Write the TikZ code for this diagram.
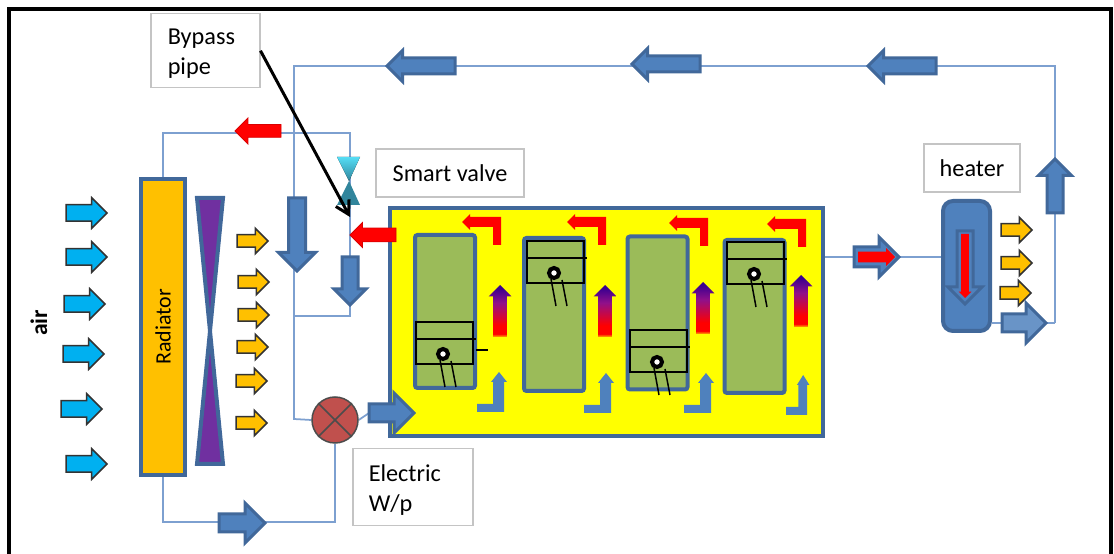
\documentclass[tikz,border=0pt]{standalone}
\usepackage{fontspec}
\setmainfont{Carlito}
\usetikzlibrary{arrows.meta,positioning,calc,backgrounds,shapes.arrows}
\definecolor{pipeline}{HTML}{7DA0D0}
\definecolor{edgeblue}{HTML}{41689A}
\definecolor{flowblue}{HTML}{4F81BD}
\definecolor{amber}{HTML}{FFC000}
\definecolor{skyblue}{HTML}{00B0F0}
\definecolor{cylgreen}{HTML}{9BBB59}
\definecolor{fanpurple}{HTML}{7030A0}
\definecolor{pumpred}{HTML}{C0504D}
\definecolor{valveteal}{HTML}{31859C}
\definecolor{valvecyan}{HTML}{55DDF5}
\definecolor{labelgray}{HTML}{C4C4C4}
\definecolor{blockyellow}{HTML}{FFFF00}
\definecolor{hotred}{HTML}{FF0000}
\definecolor{hotorange}{HTML}{FF8000}
\definecolor{hotpurple}{HTML}{90108A}
\definecolor{hotindigo}{HTML}{3A0090}
\pgfdeclareverticalshading{heatflow}{100bp}{color(0bp)=(hotorange); color(26bp)=(hotorange); color(28bp)=(hotred);
  color(36bp)=(hotred); color(58bp)=(hotpurple); color(72bp)=(hotindigo); color(100bp)=(hotindigo)}

\begin{document}
\begin{tikzpicture}[
  x=.2mm,y=-.2mm,
  >=Stealth,
  font=\fontsize{12.5}{17}\selectfont,
  flow/.style n args={3}{single arrow,anchor=tip,outer sep=0pt,inner sep=#2*.1mm,
    minimum height=#1*.2mm,single arrow head extend=(#3-#2)*.1mm,single arrow head indent=0pt},
  pipe/.style={draw=pipeline,line width=.35mm},
  bluearrow/.style={draw=edgeblue,fill=flowblue,line width=.6mm},
  redarrow/.style={draw=hotred!85!black,fill=hotred,line width=.15mm},
  airarrow/.style={draw=black!80,fill=skyblue,line width=.3mm,flow={41}{15}{29}},
  warmarrow/.style={draw=black!80,fill=amber,line width=.3mm,flow={31}{11}{24}},
  heatarrow/.style={draw=none,shade,shading=heatflow,shape border rotate=90,flow={52}{13}{22}},
  labelbox/.style={draw=labelgray,fill=white,line width=.3mm,align=left,inner sep=0pt,
    font=\fontsize{13.8}{17}\selectfont},
  cylbox/.style={draw=edgeblue,fill=cylgreen,line width=.8mm,rounded corners=.5mm,
    minimum width=12mm,minimum height=30.6mm},
  redbent/.pic={
    \fill[hotred] (0,0) -- (8,-8) -- (8,-5) -- (39,-5) -- (39,23) -- (31,23)
      -- (31,5) -- (8,5) -- (8,8) -- cycle;},
  bluebent/.pic={
    \fill[flowblue] (0,0) -- (0,-8) -- (16,-8) -- (16,-30) -- (14,-30) -- (22,-40)
      -- (30,-30) -- (27,-30) -- (27,0) -- cycle;},
  piston/.pic={
    \draw[line width=.3mm] (-27,-32) rectangle (30,10);
    \draw[line width=.3mm] (-27,-15) -- (33,-15);
    \draw[line width=.3mm] (-3,6) -- (2,33);
    \draw[line width=.3mm] (8,7) -- (13,33);
    \draw[line width=.8mm,fill=white] (0,0) circle (5);}
]
\useasboundingbox (0,0) rectangle (1114,554);

% outer frame, open at the bottom
\draw[line width=.7mm] (9,554) -- (9,9) -- (1111,9) -- (1111,554);

% radiator and fan
\node[draw=edgeblue,fill=amber,line width=.8mm,minimum width=8.8mm,minimum height=59.2mm] (radiator) at (163,327) {};
\node[rotate=90] (radlabel) at (radiator.center) {Radiator};
\draw[draw=edgeblue,fill=fanpurple,line width=.8mm,line join=miter]
  (197,198) -- (223,198) -- (197,464) -- (223,464) -- cycle;
\node[rotate=90,font=\fontsize{13.5}{15}\selectfont\bfseries] (airlabel) at (39,323) {air};

% air in
\node[airarrow] (air1) at (107,213) {};
\node[airarrow] (air2) at (107,257) {};
\node[airarrow] (air3) at (105,304) {};
\node[airarrow] (air4) at (104,354) {};
\node[airarrow] (air5) at (102,409) {};
\node[airarrow] (air6) at (107,464) {};

% air out
\node[warmarrow] (warm1) at (268,241) {};
\node[warmarrow] (warm2) at (269,282) {};
\node[warmarrow] (warm3) at (269,315) {};
\node[warmarrow] (warm4) at (268,347) {};
\node[warmarrow] (warm5) at (267,381) {};
\node[warmarrow] (warm6) at (267,423) {};

% engine block
\node[draw=edgeblue,fill=blockyellow,line width=.8mm,minimum width=86.6mm,minimum height=45.6mm] (block) at (606.5,322) {};
\node[cylbox] (cyl1) at (445,311.5) {};
\node[cylbox] (cyl2) at (554,314.5) {};
\node[cylbox] (cyl3) at (657.5,313) {};
\node[cylbox] (cyl4) at (754.5,316.5) {};
\pic at (443,354) {piston};
\pic at (554,273) {piston};
\pic at (657,362) {piston};
\pic at (754,274) {piston};
\coordinate (tickA) at (476,350);
\coordinate (tickB) at (488,350);
\draw[line width=.3mm] (tickA) -- (tickB);

\pic at (462,222) {redbent};
\pic at (567,222) {redbent};
\pic at (669,223) {redbent};
\pic at (767,224) {redbent};

\node[heatarrow] (heat1) at (500,285) {};
\node[heatarrow] (heat2) at (605,285) {};
\node[heatarrow] (heat3) at (703,282) {};
\node[heatarrow] (heat4) at (801,275) {};

\pic at (477,412) {bluebent};
\pic at (584,413) {bluebent};
\pic at (684,413) {bluebent};
\pic[xscale=.78] at (786,415) {bluebent};

% pump
\node[circle,draw=black!70,fill=pumpred,line width=.3mm,minimum size=9.2mm,inner sep=0pt] (pump) at (335,420) {};
\draw[black!70,line width=.3mm] (pump.north west) -- (pump.south east);
\draw[black!70,line width=.3mm] (pump.north east) -- (pump.south west);

% heater
\node[draw=edgeblue,fill=flowblue,line width=.8mm,rounded corners=2mm,minimum width=9.4mm,minimum height=26mm] (heater) at (966.5,266) {};
\node[bluearrow,shape border rotate=270,flow={73}{13}{31}] (heaterflow) at (965,304) {};
\node[fill=hotred,shape border rotate=270,flow={64}{7}{12}] (heaterred) at (965,298) {};
\node[warmarrow] (warm7) at (1032,230) {};
\node[warmarrow] (warm8) at (1032,263) {};
\node[warmarrow] (warm9) at (1031,293) {};

% flow arrows on the pipes
\node[bluearrow,shape border rotate=180,flow={68}{13}{28}] (back1) at (387,66) {};
\node[bluearrow,shape border rotate=180,flow={68}{13}{28}] (back2) at (632,64) {};
\node[bluearrow,shape border rotate=180,flow={68}{13}{28}] (back3) at (868,66) {};
\node[bluearrow,shape border rotate=270,flow={73}{14}{34}] (down1) at (297,271) {};
\node[bluearrow,shape border rotate=270,flow={48}{13}{29}] (down2) at (350,305) {};
\node[bluearrow,shape border rotate=90,flow={54}{13}{30}] (up1) at (1055,159) {};
\node[bluearrow,flow={46}{15}{37}] (bottomflow) at (265,523) {};
\node[bluearrow,flow={45}{15}{37}] (intake) at (414,413) {};
\node[bluearrow,flow={45}{17}{37}] (boxflow) at (899,257) {};
\node[fill=hotred,flow={37}{10}{17}] (boxred) at (895,257) {};
\node[bluearrow,fill=flowblue!85!white,flow={44}{15}{37}] (outflow) at (1046,323) {};
\node[redarrow,shape border rotate=180,flow={46}{12}{25}] (redtop) at (235,131) {};
\node[redarrow,shape border rotate=180,flow={46}{13}{24}] (redvalve) at (350,235) {};

% smart valve
\coordinate (valvetop) at (350,133);
\coordinate (valvein) at (350,217);
\coordinate (branch) at (350,316);
\fill[top color=valvecyan,bottom color=valveteal] (337,157) -- (360,157) -- (349,181) -- cycle;
\fill[valveteal] (349,181) -- (360,205) -- (337,205) -- cycle;

% labels
\node[labelbox,text width=15mm,minimum height=14.8mm,inner xsep=3.4mm,anchor=north west] (bypass) at (150,13) {\rule{0pt}{12.4pt}Bypass\\pipe};
\node[labelbox,minimum width=29.6mm,minimum height=9.6mm] (smartlabel) at (450,173) {Smart valve};
\node[labelbox,minimum width=19.2mm,minimum height=9.6mm] (heatlabel) at (972,168) {heater};
\node[labelbox,text width=17.6mm,minimum height=15.4mm,inner xsep=3.2mm,anchor=north west] (wplabel) at (352,448) {\rule{0pt}{13pt}Electric\\W/p};

\draw[-{Straight Barb[length=2.6mm,width=3mm]},line width=.6mm] (bypass.east) -- (valvein);

% pipework
\coordinate (topL) at (294,66);
\coordinate (topR) at (1055,66);
\coordinate (outR) at (1055,323);
\coordinate (sideL) at (294,419);
\coordinate (sideM) at (294,316);
\coordinate (pumpB) at (335,522);
\coordinate (boxout) at (block.east |- boxflow);
\begin{scope}[on background layer]
  \draw[pipe] (outR) -- (topR) -- (topL) -- (sideL) -- (pump.west);
  \draw[pipe] (radiator.north) |- (valvetop) -- (branch) -- (sideM);
  \draw[pipe] (radiator.south) |- (pumpB) -- (pump.south);
  \draw[pipe] (pump.east) -- (intake.tail);
  \draw[pipe] (boxout) -- (heater.west |- boxout);
  \draw[pipe] (heater.east |- outR) -- (outR);
\end{scope}

\end{tikzpicture}
\end{document}
